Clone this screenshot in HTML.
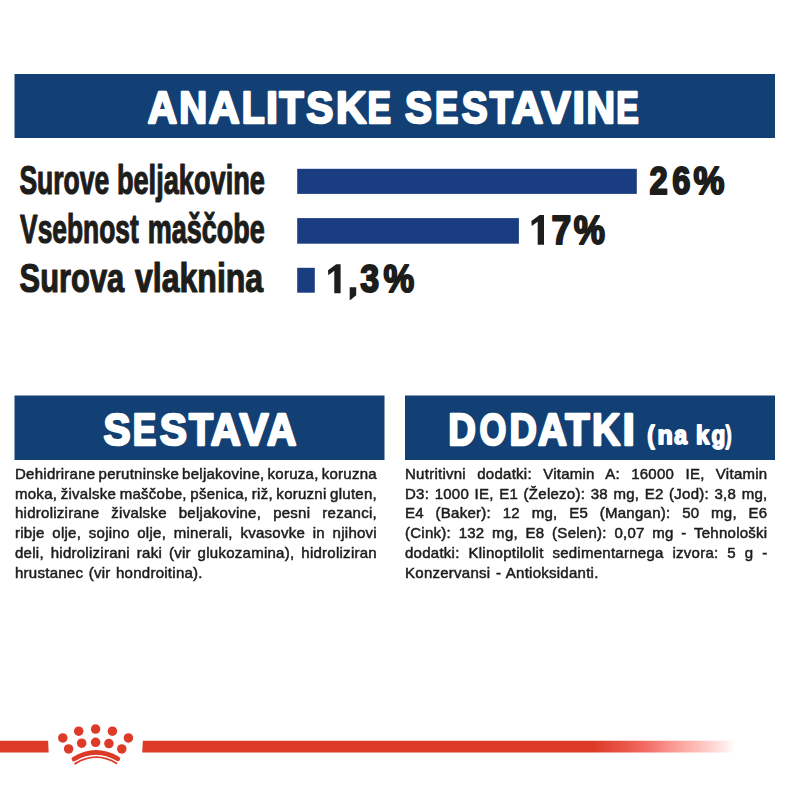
<!DOCTYPE html>
<html lang="sl">
<head>
<meta charset="utf-8">
<title>Analitske sestavine</title>
<style>
html,body{margin:0;padding:0;background:#fff;}
body{width:790px;height:790px;position:relative;overflow:hidden;font-family:"Liberation Sans",sans-serif;}
svg{position:absolute;left:0;top:0;}
svg text{font-family:"Liberation Sans",sans-serif;font-weight:bold;}
.hd{fill:#fff;stroke:#fff;stroke-width:2.4px;stroke-linejoin:round;}
.hs{fill:#fff;stroke:#fff;stroke-width:1.8px;stroke-linejoin:round;}
.lb{fill:#1d1d1b;stroke:#1d1d1b;stroke-width:1.2px;stroke-linejoin:round;}
.pc{fill:#1d1d1b;stroke:#1d1d1b;stroke-width:2px;stroke-linejoin:round;}
.para{-webkit-text-stroke:0.5px #1d1d1b;letter-spacing:0.25px;position:absolute;width:400px;height:130px;top:0;left:0;color:#1d1d1b;font-size:14.8px;line-height:20px;transform-origin:0 0;}
.para div{position:absolute;left:0;white-space:nowrap;height:20px;}
</style>
</head>
<body>
<svg width="790" height="790" viewBox="0 0 790 790">
  <defs>
    <linearGradient id="fade" x1="0" y1="0" x2="1" y2="0">
      <stop offset="0" stop-color="#dd3a28"/>
      <stop offset="0.75" stop-color="#dd3a28"/>
      <stop offset="0.805" stop-color="#ea564a"/>
      <stop offset="0.843" stop-color="#f4706a"/>
      <stop offset="0.881" stop-color="#fa9690"/>
      <stop offset="0.919" stop-color="#fcb9b4"/>
      <stop offset="0.957" stop-color="#fedcda"/>
      <stop offset="0.988" stop-color="#ffffff"/>
    </linearGradient>
  </defs>
  <!-- banners -->
  <rect x="14.5" y="74" width="760.5" height="64" fill="#134074"/>
  <rect x="14.5" y="395.5" width="370" height="64.5" fill="#134074"/>
  <rect x="405" y="395.5" width="370" height="64.5" fill="#134074"/>
  <!-- headings -->
  <text class="hd" y="123.2" font-size="44.6"><tspan x="147.68" textLength="29.31" lengthAdjust="spacingAndGlyphs">A</tspan><tspan x="179.17" textLength="27.89" lengthAdjust="spacingAndGlyphs">N</tspan><tspan x="208.68" textLength="30.87" lengthAdjust="spacingAndGlyphs">A</tspan><tspan x="241.74" textLength="22.95" lengthAdjust="spacingAndGlyphs">L</tspan><tspan x="266.07" textLength="11.96" lengthAdjust="spacingAndGlyphs">I</tspan><tspan x="279.2" textLength="24.37" lengthAdjust="spacingAndGlyphs">T</tspan><tspan x="306.19" textLength="27.11" lengthAdjust="spacingAndGlyphs">S</tspan><tspan x="335.88" textLength="30.29" lengthAdjust="spacingAndGlyphs">K</tspan><tspan x="367.47" textLength="23.48" lengthAdjust="spacingAndGlyphs">E</tspan></text>
  <text class="hd" y="123.2" font-size="44.6"><tspan x="404.99" textLength="27.0" lengthAdjust="spacingAndGlyphs">S</tspan><tspan x="434.97" textLength="23.28" lengthAdjust="spacingAndGlyphs">E</tspan><tspan x="461.83" textLength="25.92" lengthAdjust="spacingAndGlyphs">S</tspan><tspan x="489.78" textLength="23.13" lengthAdjust="spacingAndGlyphs">T</tspan><tspan x="511.68" textLength="31.4" lengthAdjust="spacingAndGlyphs">A</tspan><tspan x="541.41" textLength="29.12" lengthAdjust="spacingAndGlyphs">V</tspan><tspan x="572.62" textLength="12.38" lengthAdjust="spacingAndGlyphs">I</tspan><tspan x="586.43" textLength="28.5" lengthAdjust="spacingAndGlyphs">N</tspan><tspan x="616.34" textLength="22.5" lengthAdjust="spacingAndGlyphs">E</tspan></text>
  <text class="hd" y="444.6" font-size="44.6"><tspan x="103.59" textLength="27.11" lengthAdjust="spacingAndGlyphs">S</tspan><tspan x="132.87" textLength="23.48" lengthAdjust="spacingAndGlyphs">E</tspan><tspan x="159.87" textLength="27.19" lengthAdjust="spacingAndGlyphs">S</tspan><tspan x="189.06" textLength="24.08" lengthAdjust="spacingAndGlyphs">T</tspan><tspan x="210.78" textLength="29.96" lengthAdjust="spacingAndGlyphs">A</tspan><tspan x="239.5" textLength="28.94" lengthAdjust="spacingAndGlyphs">V</tspan><tspan x="266.98" textLength="29.31" lengthAdjust="spacingAndGlyphs">A</tspan></text>
  <text class="hd" y="444.6" font-size="44.6"><tspan x="448.28" textLength="27.63" lengthAdjust="spacingAndGlyphs">D</tspan><tspan x="479.49" textLength="26.79" lengthAdjust="spacingAndGlyphs">O</tspan><tspan x="509.54" textLength="27.34" lengthAdjust="spacingAndGlyphs">D</tspan><tspan x="538.08" textLength="28.84" lengthAdjust="spacingAndGlyphs">A</tspan><tspan x="565.26" textLength="24.35" lengthAdjust="spacingAndGlyphs">T</tspan><tspan x="591.89" textLength="28.15" lengthAdjust="spacingAndGlyphs">K</tspan><tspan x="622.52" textLength="12.38" lengthAdjust="spacingAndGlyphs">I</tspan></text>
  <text class="hs" y="444.0" font-size="25.6"><tspan x="647.23" textLength="7.28" lengthAdjust="spacingAndGlyphs">(</tspan><tspan x="657.43" textLength="15.29" lengthAdjust="spacingAndGlyphs">n</tspan><tspan x="674.24" textLength="12.76" lengthAdjust="spacingAndGlyphs">a</tspan> <tspan x="696.02" textLength="13.26" lengthAdjust="spacingAndGlyphs">k</tspan><tspan x="711.4" textLength="13.74" lengthAdjust="spacingAndGlyphs">g</tspan><tspan x="725.68" textLength="5.76" lengthAdjust="spacingAndGlyphs">)</tspan></text>
  <!-- bars -->
  <rect x="297.2" y="168.8" width="339.6" height="25.1" fill="#1a3d82"/>
  <rect x="297.2" y="218.1" width="221.7" height="25.6" fill="#1a3d82"/>
  <rect x="297.2" y="267.8" width="17.6" height="24.9" fill="#1a3d82"/>
  <!-- labels -->
  <text class="lb" y="194.1" font-size="40.5"><tspan x="19.4" textLength="89.81" lengthAdjust="spacingAndGlyphs">Surove</tspan> <tspan x="116.89" textLength="148.07" lengthAdjust="spacingAndGlyphs">beljakovine</tspan></text>
  <text class="lb" y="243.3" font-size="40.5"><tspan x="20.04" textLength="118.72" lengthAdjust="spacingAndGlyphs">Vsebnost</tspan> <tspan x="147.72" textLength="117.04" lengthAdjust="spacingAndGlyphs">maščobe</tspan></text>
  <text class="lb" y="291.6" font-size="40.5"><tspan x="19.59" textLength="104.63" lengthAdjust="spacingAndGlyphs">Surova</tspan> <tspan x="135.02" textLength="128.14" lengthAdjust="spacingAndGlyphs">vlaknina</tspan></text>
  <text class="pc" x="649.45" y="193.6" font-size="38.7" textLength="18.26" lengthAdjust="spacingAndGlyphs">2</text>
  <text class="pc" x="672.19" y="193.6" font-size="38.7" textLength="18.17" lengthAdjust="spacingAndGlyphs">6</text>
  <text class="pc" x="693.39" y="193.6" font-size="38.7" textLength="30.92" lengthAdjust="spacingAndGlyphs">%</text>
  <text class="pc" x="551.43" y="243.7" font-size="40.0" textLength="19.76" lengthAdjust="spacingAndGlyphs">7</text>
  <text class="pc" x="573.67" y="243.7" font-size="40.0" textLength="31.25" lengthAdjust="spacingAndGlyphs">%</text>
  <text class="pc" x="360.3" y="292.3" font-size="39.6" textLength="18.87" lengthAdjust="spacingAndGlyphs">3</text>
  <text class="pc" x="383.48" y="292.3" font-size="39.6" textLength="30.7" lengthAdjust="spacingAndGlyphs">%</text>
  <polygon fill="#1d1d1b" points="539.6,215.1 544.0,215.1 544.0,244.7 537.7,244.7 537.7,221.7 531.7,226.1 531.4,221.1"/>
  <polygon fill="#1d1d1b" points="336.2,264.2 340.6,264.2 340.6,293.3 334.3,293.3 334.3,270.8 328.3,275.2 328.0,270.2"/>
  <polygon fill="#1d1d1b" points="349.7,287.2 356.2,287.2 356.2,295.2 350.4,300.1 349.7,300.1"/>
  <!-- red line -->
  <polygon points="0,740.7 48.1,740.7 48.7,752.5 0,752.5" fill="#dd3a28"/>
  <polygon points="142.9,740.7 742.5,740.7 742.5,752.5 142.2,752.5" fill="url(#fade)"/>
  <!-- crown -->
  <g fill="#dd3a28">
    <circle cx="62.8" cy="737.9" r="4.75"/>
    <circle cx="78.7" cy="731.2" r="4.75"/>
    <circle cx="95.6" cy="729.1" r="4.75"/>
    <circle cx="112.4" cy="731.2" r="4.75"/>
    <circle cx="128.4" cy="737.9" r="4.75"/>
    <circle cx="68.6" cy="748.9" r="4.75"/>
    <circle cx="81.7" cy="743.2" r="4.75"/>
    <circle cx="95.6" cy="742.3" r="4.75"/>
    <circle cx="108.9" cy="743.6" r="4.75"/>
    <circle cx="121.8" cy="748.9" r="4.75"/>
  </g>
  <path d="M74 759 Q95.8 745.8 117.8 758.7" fill="none" stroke="#dd3a28" stroke-width="4.7" stroke-linecap="round"/>
  <path d="M75.2 763.6 Q95.7 750.9 116.4 763.2" fill="none" stroke="#dd3a28" stroke-width="1.9" stroke-linecap="round"/>
</svg>

<div class="para" id="pl" style="left:14.80px;transform:scaleX(1.015)">
<div style="top:463.87px;word-spacing:-1.286px">Dehidrirane perutninske beljakovine, koruza, koruzna</div>
<div style="top:483.62px;word-spacing:-0.891px">moka, živalske maščobe, pšenica, riž, koruzni gluten,</div>
<div style="top:503.37px;word-spacing:7.479px">hidrolizirane živalske beljakovine, pesni rezanci,</div>
<div style="top:523.12px;word-spacing:3.194px">ribje olje, sojino olje, minerali, kvasovke in njihovi</div>
<div style="top:542.87px;word-spacing:2.402px">deli, hidrolizirani raki (vir glukozamina), hidroliziran</div>
<div style="top:562.62px;word-spacing:1.000px">hrustanec (vir hondroitina).</div>
</div>
<div class="para" id="pr" style="left:404.60px;transform:scaleX(1.015)">
<div style="top:463.87px;word-spacing:6.751px">Nutritivni dodatki: Vitamin A: 16000 IE, Vitamin</div>
<div style="top:483.62px;word-spacing:1.069px">D3: 1000 IE, E1 (Železo): 38 mg, E2 (Jod): 3,8 mg,</div>
<div style="top:503.37px;word-spacing:7.168px">E4 (Baker): 12 mg, E5 (Mangan): 50 mg, E6</div>
<div style="top:523.12px;word-spacing:3.180px">(Cink): 132 mg, E8 (Selen): 0,07 mg - Tehnološki</div>
<div style="top:542.87px;word-spacing:4.339px">dodatki: Klinoptilolit sedimentarnega izvora: 5 g -</div>
<div style="top:562.62px;word-spacing:1.000px">Konzervansi - Antioksidanti.</div>
</div>
</body>
</html>
